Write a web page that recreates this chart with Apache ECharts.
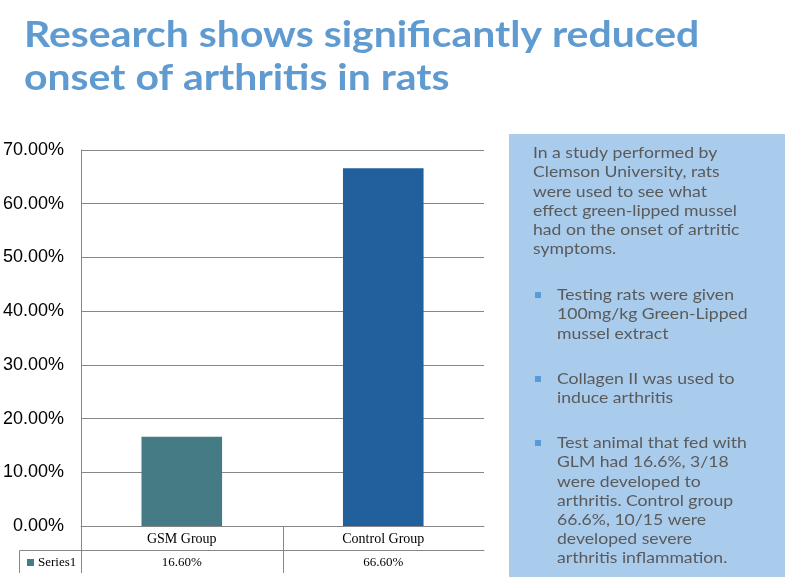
<!DOCTYPE html>
<html>
<head>
<meta charset="utf-8">
<title>Research shows significantly reduced onset of arthritis in rats</title>
<script src="https://cdn.jsdelivr.net/npm/echarts@6/dist/echarts.min.js"></script>
<style>
  html, body { margin: 0; padding: 0; background: #fff; }
  #chart { width: 792px; height: 585px; }
</style>
</head>
<body>
<div id="chart"></div>
<script>
// Datos del gráfico
const categories = ['GSM Group', 'Control Group'];
const values = [16.6, 66.6];
const barColors = ['#457b84', '#215f9d'];
const seriesName = 'Series1';
const yMax = 70;
const yStep = 10;

// Textos del título y del recuadro
const titleLines = ['Research shows significantly reduced', 'onset of arthritis in rats'];
const introLines = [
  'In a study performed by',
  'Clemson University, rats',
  'were used to see what',
  'effect green-lipped mussel',
  'had on the onset of artritic',
  'symptoms.'
];
const bulletItems = [
  ['Testing rats were given', '100mg/kg Green-Lipped', 'mussel extract'],
  ['Collagen II was used to', 'induce arthritis'],
  ['Test animal that fed with', 'GLM had 16.6%, 3/18', 'were developed to', 'arthritis. Control group', '66.6%, 10/15 were', 'developed severe', 'arthritis inflammation.']
];

const pct = v => v.toFixed(2) + '%';
const boxFont = '16px Lato, sans-serif';
const boxColor = '#5a5a5a';

// Una línea de texto estirada en horizontal (la fuente original es más ancha)
const textLine = (text, x, y, font, fill, sx) => ({
  type: 'text', x: x, y: y, scaleX: sx,
  style: { text: text, x: 0, y: 0, verticalAlign: 'middle', font: font, fill: fill }
});

// Construye los textos del recuadro azul
const buildBoxText = () => {
  const els = [];
  const lh = 19.2;
  let y = 153;
  introLines.forEach(line => {
    els.push(textLine(line, 533, y, boxFont, boxColor, 1.1));
    y += lh;
  });
  const bulletTops = [295, 379, 443];
  bulletItems.forEach((lines, i) => {
    let by = bulletTops[i];
    els.push({ type: 'rect', shape: { x: 535, y: by - 3, width: 6, height: 6 }, style: { fill: '#5b9bd5' } });
    lines.forEach(line => {
      els.push(textLine(line, 557, by, boxFont, boxColor, 1.1));
      by += lh;
    });
  });
  return els;
};

const chart = echarts.init(document.getElementById('chart'));

const option = {
  animation: false,
  backgroundColor: '#fff',
  grid: { left: 81, right: 308, top: 150, bottom: 59 },
  legend: {
    left: 22, top: 551,
    icon: 'rect', itemWidth: 7, itemHeight: 7, itemGap: 4,
    textStyle: { fontFamily: 'Liberation Serif', fontSize: 13, color: '#000', padding: [0, 0, 0, -1] },
    data: [{ name: seriesName, itemStyle: { color: barColors[0] } }]
  },
  xAxis: [
    {
      type: 'category',
      data: categories,
      position: 'bottom',
      axisLine: { lineStyle: { color: '#868686', width: 1 } },
      axisTick: { show: false },
      axisLabel: { fontFamily: 'Liberation Serif', fontSize: 14, color: '#000', margin: 6 }
    },
    {
      type: 'category',
      data: categories,
      position: 'bottom',
      offset: 24,
      axisLine: { lineStyle: { color: '#868686', width: 1 } },
      axisTick: { show: false },
      axisLabel: {
        fontFamily: 'Liberation Serif', fontSize: 13, color: '#000', margin: 6,
        formatter: (v) => pct(values[categories.indexOf(v)])
      }
    }
  ],
  yAxis: {
    type: 'value',
    min: 0, max: yMax, interval: yStep,
    axisLine: { show: true, lineStyle: { color: '#868686' } },
    axisTick: { show: false },
    splitLine: { lineStyle: { color: '#868686', width: 1 } },
    axisLabel: { fontFamily: 'Liberation Sans', fontSize: 18, color: '#000', margin: 17, formatter: pct }
  },
  series: [
    {
      name: seriesName,
      type: 'bar',
      barWidth: '40%',
      data: values.map((v, i) => ({ value: v, itemStyle: { color: barColors[i] } })),
      itemStyle: { color: barColors[0] }
    }
  ],
  graphic: [
    // Título
    textLine(titleLines[0], 24, 35, 'bold 36px Lato, sans-serif', '#5f9bd1', 1.137),
    textLine(titleLines[1], 24, 78, 'bold 36px Lato, sans-serif', '#5f9bd1', 1.137),
    // Bordes de la fila "Series1"
    { type: 'line', shape: { x1: 19.5, y1: 550.5, x2: 81, y2: 550.5 }, style: { stroke: '#868686', lineWidth: 1 } },
    { type: 'line', shape: { x1: 19.5, y1: 550.5, x2: 19.5, y2: 573 }, style: { stroke: '#868686', lineWidth: 1 } },
    // Recuadro azul
    { type: 'rect', z: -1, shape: { x: 509, y: 134, width: 276, height: 443 }, style: { fill: '#a9cbec' } }
  ].concat(buildBoxText())
};

chart.setOption(option);

// Separadores verticales de la tabla, calculados desde la escala del eje
const p0 = chart.convertToPixel({ xAxisIndex: 0 }, categories[0]);
const p1 = chart.convertToPixel({ xAxisIndex: 0 }, categories[1]);
const half = (p1 - p0) / 2;
const y0 = chart.convertToPixel({ yAxisIndex: 0 }, 0);
const seps = [p0 - half, p0 + half].map(x => Math.round(x) + 0.5);
chart.setOption({
  graphic: seps.map((x, i) => ({
    id: 'sep' + i, type: 'line',
    shape: { x1: x, y1: y0, x2: x, y2: 573 },
    style: { stroke: '#868686', lineWidth: 1 }
  }))
});
</script>
</body>
</html>
